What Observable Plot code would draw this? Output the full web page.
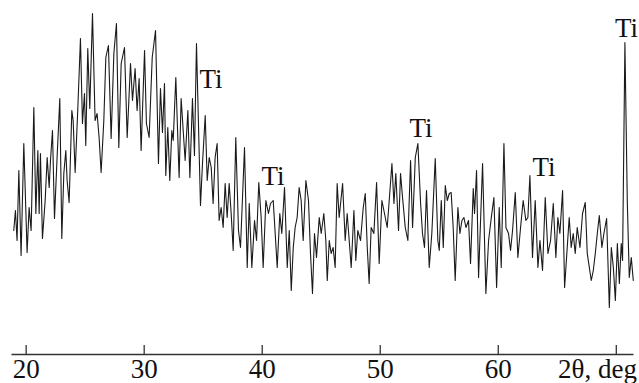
<!DOCTYPE html>
<html>
<head>
<meta charset="utf-8">
<script src="https://cdn.jsdelivr.net/npm/d3@7"></script>
<script src="https://cdn.jsdelivr.net/npm/@observablehq/plot@0.6"></script>
<style>
  html, body { margin: 0; padding: 0; background: #fff; }
  #chart svg { display: block; }
  #chart svg text { font-family: "Liberation Serif", "Times New Roman", Times, serif !important; }
</style>
</head>
<body>
<div id="chart"></div>
<script>
// 2θ (deg) positions of the traced pattern
const twoTheta = [
  18.95, 19.09, 19.23, 19.38, 19.57, 19.80, 20.08, 20.25, 20.42, 20.65,
  20.82, 20.99, 21.10, 21.21, 21.38, 21.61, 21.78, 21.95, 22.06, 22.23,
  22.40, 22.62, 22.85, 23.02, 23.19, 23.36, 23.47, 23.64, 23.87, 23.98,
  24.15, 24.38, 24.60, 24.77, 24.94, 25.05, 25.22, 25.39, 25.62, 25.84,
  26.01, 26.18, 26.35, 26.58, 26.75, 26.97, 27.20, 27.43, 27.65, 27.85,
  28.05, 28.33, 28.56, 28.84, 29.01, 29.23, 29.40, 29.57, 29.74, 30.03,
  30.19, 30.42, 30.68, 30.96, 31.21, 31.38, 31.55, 31.72, 31.83, 32.00,
  32.17, 32.34, 32.46, 32.68, 32.96, 33.13, 33.47, 33.70, 33.87, 34.09,
  34.26, 34.43, 34.77, 34.94, 35.17, 35.34, 35.51, 35.68, 35.84, 36.01,
  36.18, 36.35, 36.52, 36.69, 36.86, 37.03, 37.20, 37.37, 37.54, 37.76,
  37.99, 38.16, 38.50, 38.73, 38.90, 39.12, 39.35, 39.52, 39.71, 39.91,
  40.08, 40.31, 40.53, 40.70, 40.93, 41.10, 41.27, 41.49, 41.66, 41.89,
  42.12, 42.29, 42.46, 42.63, 42.79, 42.96, 43.13, 43.30, 43.47, 43.70,
  43.92, 44.09, 44.26, 44.43, 44.60, 44.83, 45.00, 45.22, 45.39, 45.51,
  45.68, 45.84, 46.01, 46.18, 46.35, 46.52, 46.81, 47.03, 47.20, 47.37,
  47.54, 47.77, 47.93, 48.10, 48.33, 48.56, 48.73, 48.90, 49.06, 49.23,
  49.46, 49.69, 49.91, 50.14, 50.36, 50.59, 50.76, 50.99, 51.16, 51.32,
  51.55, 51.72, 51.89, 52.12, 52.34, 52.57, 52.74, 52.97, 53.19, 53.42,
  53.58, 53.75, 53.92, 54.15, 54.37, 54.66, 54.88, 55.00, 55.17, 55.34,
  55.51, 55.68, 55.85, 56.01, 56.18, 56.35, 56.58, 56.75, 56.92, 57.09,
  57.26, 57.48, 57.65, 57.88, 57.99, 58.16, 58.33, 58.67, 58.95, 59.18,
  59.41, 59.63, 59.86, 60.08, 60.25, 60.48, 60.65, 60.87, 61.04, 61.21,
  61.44, 61.66, 61.89, 62.11, 62.34, 62.51, 62.68, 62.90, 63.13, 63.36,
  63.53, 63.75, 63.98, 64.21, 64.43, 64.66, 64.88, 65.05, 65.22, 65.45,
  65.62, 66.01, 66.18, 66.35, 66.52, 66.69, 66.92, 67.14, 67.37, 67.54,
  67.88, 68.05, 68.22, 68.39, 68.56, 68.78, 68.95, 69.18, 69.41, 69.58,
  69.75, 69.92, 70.09, 70.26, 70.42, 70.53, 70.73, 70.93, 71.10, 71.27,
  71.44
];
// intensity (arbitrary units)
const intensity = [
  124, 144, 114, 184,  99, 211, 102, 147, 124, 247,
  141, 204, 141, 201, 116, 154, 197, 167, 194, 224,
  136, 197, 256, 116, 181, 204, 174, 152, 244, 234,
  182, 247, 316, 231, 261, 209, 306, 246, 341, 234,
  241, 217, 182, 234, 297, 309, 216, 301, 331, 207,
  291, 307, 217, 291, 254, 286, 244, 276, 204, 304,
  231, 217, 297, 324, 191, 266, 222, 271, 179, 227,
  174, 224, 214, 277, 177, 256, 194, 244, 177, 256,
  199, 311, 149, 191, 239, 174, 197, 187, 151, 197,
  211, 134, 147, 127, 171, 137, 171, 141, 104, 217,
  124, 107, 207,  87, 151,  87, 134, 114, 172, 137,
   87, 154, 141, 151, 154, 121,  87, 141, 121, 167,
   87, 124,  64, 107, 127, 137, 167, 154, 114, 174,
  154, 101,  61, 121,  97, 137, 121, 141, 114,  74,
  114, 101, 107,  87, 171, 137, 171, 114, 141, 114,
   87, 144,  94, 124, 114, 147, 161, 107,  71, 127,
  121, 172,  91, 154, 141, 127, 154, 191, 151, 181,
  124, 181, 157, 127, 114, 194, 127, 197, 211, 151,
  121, 107, 164,  87, 121, 196, 114, 104, 154, 107,
  169, 154, 161, 162, 127,  74, 147, 121, 134, 137,
  127, 134,  91, 166, 141, 184,  77, 191,  61, 114,
  137, 157,  67, 147,  87, 211, 127, 121, 104, 124,
  162,  97, 127, 154, 134, 137, 179,  97, 154,  87,
  114,  84, 157, 101, 114, 151,  97, 137, 121, 164,
   67, 137, 107, 121, 101, 127, 107, 141, 152, 101,
   74,  84, 101, 121, 139, 107, 121, 136,  47, 107,
   87,  54, 111,  71, 111,  94, 312, 154,  77,  97,
   74
];
const tickValues = [20, 30, 40, 50, 60, 70];
const tickLabels = ["20", "30", "40", "50", "60"];
const axisTitle = "2θ, deg";
const peakLabel = "Ti";
const peakTheta = [35.66, 40.92, 53.46, 63.88, 70.87];
const peakLabelLevel = [275, 178, 226, 187, 326];

const data = twoTheta.map((x, i) => ({x, y: intensity[i]}));
const labelTicks = tickValues.slice(0, tickLabels.length).map((v, i) => ({v, t: tickLabels[i]}));
const peaks = peakTheta.map((x, i) => ({x, y: peakLabelLevel[i], t: peakLabel}));

const font = "Liberation Serif";

const chart = Plot.plot({
  width: 639,
  height: 383,
  marginLeft: 11.5,
  marginRight: 5.5,
  marginTop: 0,
  marginBottom: 29,
  style: {background: "#fff", overflow: "visible"},
  x: {domain: [18.8, 71.5], axis: null},
  y: {domain: [0, 354], axis: null},
  marks: [
    Plot.ruleY([0], {stroke: "#333", strokeWidth: 1.3}),
    Plot.ruleX(tickValues, {y1: 0, y2: 9, stroke: "#333", strokeWidth: 1.3}),
    Plot.text(labelTicks, {x: "v", y: 0, text: "t", dy: 15, lineAnchor: "middle", fontSize: 27, fontFamily: font, fill: "#111"}),
    Plot.text([axisTitle], {x: 71.5, y: 0, text: d => d, dy: 15, dx: 3, textAnchor: "end", lineAnchor: "middle", fontSize: 27, fontFamily: font, fill: "#111"}),
    Plot.line(data, {x: "x", y: "y", stroke: "#1a1a1a", strokeWidth: 1.1}),
    Plot.text(peaks, {x: "x", y: "y", text: "t", lineAnchor: "middle", fontSize: 27, fontFamily: font, fill: "#111"})
  ]
});
document.getElementById("chart").append(chart);
</script>
</body>
</html>
